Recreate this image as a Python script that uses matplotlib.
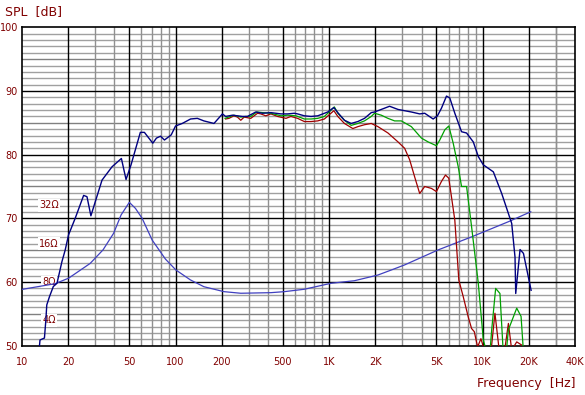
import numpy as np
import matplotlib
matplotlib.use('Agg')
import matplotlib.pyplot as plt

# SPL on axis (blue), Hz / dB
spl_freq = [13, 13.1, 14.0, 14.3, 14.5, 15.1, 16.0, 16.9, 18.2, 19.1, 20.1, 22.2, 25.2, 26.5,
            28.1, 33.2, 38.6, 44.4, 47.6, 51.3, 59.0, 62.7, 71.1, 75.1, 79.8, 84.7, 93.7, 100,
            110.6, 125.3, 138.7, 153, 178, 202, 212, 235, 253, 273, 294, 333, 369, 418, 486,
            537, 593, 624, 690, 763, 844, 981, 1074, 1140, 1259, 1393, 1540, 1701, 1882, 1978,
            2187, 2477, 2812, 3435, 3892, 4197, 4762, 5080, 5395, 5818, 6113, 6592, 7290, 7862,
            8694, 9374, 10106, 11746, 13314, 15470, 16257, 16430, 17530, 18450, 20690]
spl_db = [50.0, 50.9, 51.2, 54.0, 56.4, 57.7, 59.3, 59.8, 63.2, 65.0, 67.4, 70.0, 73.6, 73.4,
          70.4, 76.0, 78.1, 79.4, 76.1, 78.4, 83.5, 83.5, 81.8, 82.6, 82.9, 82.3, 83.1, 84.5,
          84.9, 85.6, 85.7, 85.3, 84.9, 86.4, 86.0, 86.2, 86.1, 86.0, 86.0, 86.7, 86.5, 86.6, 86.4,
          86.4, 86.5, 86.4, 86.1, 86.0, 86.1, 86.7, 87.4, 86.6, 85.4, 84.9, 85.2, 85.7, 86.6, 86.7,
          87.1, 87.6, 87.1, 86.7, 86.4, 86.5, 85.6, 86.1, 87.3, 89.2, 88.9, 86.5, 83.6, 83.4,
          82.0, 79.7, 78.4, 77.3, 73.9, 69.2, 63.9, 58.2, 65.1, 64.5, 58.7]

# off-axis 1 (green)
green_freq = [210, 240, 266, 287, 309, 338, 369, 418, 486, 537, 609, 690, 763, 844, 932, 1083,
              1140, 1259, 1393, 1540, 1701, 1882, 1978, 2187, 2419, 2673, 2955, 3435, 3994, 4417,
              5004, 5260, 5671, 6023, 6433, 6937, 7290, 7862, 8474, 9374, 10106, 10620, 11000,
              11460, 12160, 12970, 13600, 14000, 14720, 16680, 17800, 18450]
green_db = [85.7, 86.2, 85.9, 86.0, 86.0, 86.7, 86.6, 86.5, 86.1, 86.2, 86.1, 85.6, 85.6, 85.7,
            86.0, 87.5, 86.5, 85.4, 84.6, 84.9, 85.3, 86.0, 86.5, 86.2, 85.7, 85.3, 85.3, 84.4,
            82.6, 82.0, 81.4, 82.3, 83.9, 84.5, 81.8, 78.1, 75.0, 75.0, 68.7, 59.8, 50.9, 49.0,
            47.0, 52.5, 59.0, 58.2, 49.3, 47.0, 52.5, 55.9, 54.6, 49.0]

# off-axis 2 (red)
red_freq = [212, 223, 240, 253, 266, 280, 309, 342, 359, 387, 418, 462, 524, 564, 624, 690, 763,
            844, 932, 1074, 1140, 1259, 1428, 1540, 1701, 1882, 2081, 2419, 2812, 3105, 3348,
            3610, 3892, 4197, 4642, 5004, 5395, 5730, 6023, 6592, 6999, 7478, 8064, 8474, 8828,
            9275, 9748, 10260, 11000, 12030, 12780, 13500, 14720, 15470, 16680, 17980]
red_db = [85.6, 85.7, 86.1, 85.9, 85.4, 85.9, 85.7, 86.5, 86.4, 86.1, 86.4, 86.0, 85.7, 86.0,
          85.7, 85.2, 85.2, 85.3, 85.6, 86.9, 86.0, 84.9, 84.1, 84.4, 84.7, 84.9, 84.4, 83.4,
          82.0, 81.0, 79.2, 76.5, 73.9, 75.0, 74.7, 74.2, 75.8, 76.8, 76.3, 69.7, 60.3, 57.7,
          54.5, 52.7, 52.2, 49.8, 51.1, 49.3, 46.0, 55.1, 49.6, 47.0, 53.5, 49.3, 50.6, 50.1]

# impedance (ohm)
imp_freq = [10, 16.4, 20.1, 27.8, 33.7, 39.5, 44.2, 50.0, 54.8, 60.6, 70.4, 86.0, 100.6, 125,
            153, 207, 266, 418, 510, 690, 1030, 1463, 2081, 2542, 3105, 5135, 8474, 14720, 20590]
imp_ohm = [7.0, 7.76, 8.57, 11.2, 14.3, 19.3, 26.9, 33.8, 30.3, 25.3, 17.1, 12.1, 9.94, 8.31,
           7.35, 6.72, 6.53, 6.6, 6.72, 7.02, 7.82, 8.19, 9.08, 9.94, 10.9, 14.3, 18.1, 23.8, 28.5]

ohm_labels = [32, 16, 8, 4]
x_major = [10, 20, 50, 100, 200, 500, 1000, 2000, 5000, 10000, 20000, 40000]
x_labels = ['10', '20', '50', '100', '200', '500', '1K', '2K', '5K', '10K', '20K', '40K']
x_minor = [m * d for d in [10, 100, 1000, 10000] for m in [3, 4, 6, 7, 8, 9]] + [30000]


def ohm_to_db(z):
    return 60 + 20 * np.log10(np.asarray(z) / 8.0)


dark_red = '#800000'

fig = plt.figure(figsize=(5.85, 3.95), dpi=100)
ax = fig.add_axes([0.0376, 0.1248, 0.9454, 0.8061])
ax.set_xscale('log')
ax.set_xlim(10, 40000)
ax.set_ylim(50, 100)

# grid
for y in range(51, 100):
    if y % 10 == 0:
        continue
    ax.axhline(y, color='#a0a0a0' if y % 5 else '#808080', lw=1.0, zorder=1)
for y in range(60, 100, 10):
    ax.axhline(y, color='black', lw=1.0, zorder=1.5)
for x in x_minor:
    if x < 40000:
        ax.axvline(x, color='#909090', lw=1.0, zorder=1)
for x in x_major[1:-1]:
    ax.axvline(x, color='black', lw=1.0, zorder=1.5)

ax.set_xticks(x_major)
ax.set_xticklabels(x_labels)
ax.set_xticks([], minor=True)
ax.set_yticks(range(50, 101, 10))
ax.tick_params(length=0, colors=dark_red, labelsize=7)
ax.tick_params(axis='x', pad=8)
ax.tick_params(axis='y', pad=3)
for s in ax.spines.values():
    s.set_color('black')
    s.set_linewidth(1.2)

# impedance scale labels
for z in ohm_labels:
    ax.text(15.0, ohm_to_db(z), f'{z}Ω', color=dark_red, fontsize=7, ha='center', va='center',
            bbox=dict(facecolor='white', edgecolor='none', pad=1), zorder=2)

ax.plot(imp_freq, ohm_to_db(imp_ohm), color='#4040c0', lw=0.9, zorder=3)
ax.plot(red_freq, red_db, color='#a00000', lw=0.9, zorder=4)
ax.plot(green_freq, green_db, color='#00a000', lw=0.9, zorder=5)
ax.plot(spl_freq, spl_db, color='#000080', lw=1.0, zorder=6)

fig.text(0.009, 0.972, 'SPL  [dB]', color=dark_red, fontsize=9, ha='left', va='center')
fig.text(0.983, 0.03, 'Frequency  [Hz]', color=dark_red, fontsize=9, ha='right', va='center')

fig.savefig('out.png', dpi=100)
